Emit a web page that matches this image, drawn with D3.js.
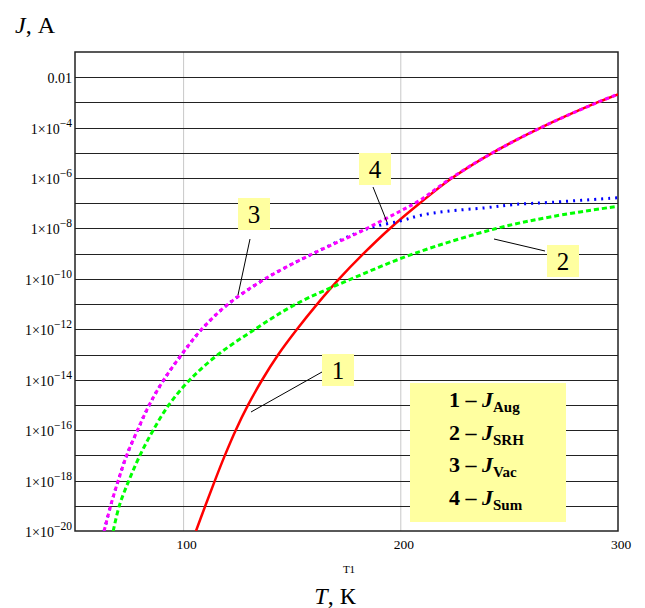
<!DOCTYPE html>
<html>
<head>
<meta charset="utf-8">
<title>J(T)</title>
<style>
  body { margin: 0; background: #fff; }
  svg text { font-family: "Liberation Serif", "Times New Roman", serif; fill: #000; }
</style>
<script src="https://cdnjs.cloudflare.com/ajax/libs/d3/7.8.5/d3.min.js"></script>
</head>
<body>
<svg id="chart" width="645" height="608"></svg>
<script>
// values (T in K, J in A)
var tAug = [105.7, 110, 114.4, 119, 124, 129.7, 136.2, 143.6, 152.2, 161.5, 171.6, 182.8, 195.0, 208.7, 223.6, 242.2, 264.5, 290.5, 300];
var jAug = [1e-20, 1e-19, 1e-18, 1e-17, 1e-16, 1e-15, 1e-14, 1e-13, 1e-12, 1e-11, 1e-10, 1e-9, 1e-8, 1e-7, 1e-6, 1e-5, 1e-4, 1e-3, 2.1e-3];

var tSRH = [67.6, 70.4, 74.8, 79.9, 86, 93.2, 102.9, 115.9, 132.8, 151.7, 177.3, 206, 244, 270, 300];
var jSRH = [1e-20, 1e-19, 1e-18, 1e-17, 1e-16, 1e-15, 1e-14, 1e-13, 1e-12, 1e-11, 1e-10, 1e-9, 1e-8, 3e-8, 7.6e-8];

var tVac = [63.4, 66.4, 69.9, 73.8, 78.8, 84.2, 90.9, 99.1, 108.3, 120.5, 137.5, 159.5, 185, 200, 209, 221, 239, 252, 270, 300];
var jVac = [1e-20, 1e-19, 1e-18, 1e-17, 1e-16, 1e-15, 1e-14, 1e-13, 1e-12, 1e-11, 1e-10, 1e-9, 1e-8, 2.0e-8, 3.3e-8, 4.8e-8, 6.6e-8, 8.9e-8, 1.1e-7, 1.66e-7];

var tSum = [63.4, 66.4, 69.9, 73.8, 78.8, 84.2, 90.9, 99.1, 108.3, 120.5, 137.5, 159.5, 180, 190, 200, 208.7, 223.6, 242.2, 264.5, 290.5, 300];
var jSum = [1e-20, 1e-19, 1e-18, 1e-17, 1e-16, 1e-15, 1e-14, 1e-13, 1e-12, 1e-11, 1e-10, 1e-9, 6.5e-9, 1.8e-8, 5e-8, 1.3e-7, 1.05e-6, 1e-5, 1e-4, 1e-3, 2.1e-3];

var xTicks = [100, 200, 300];
var yLabelExps = [-2, -4, -6, -8, -10, -12, -14, -16, -18, -20];
var legendNames = ["Aug", "SRH", "Vac", "Sum"];

var svg = d3.select("#chart");
var pL = 75, pR = 618, pT = 52, pB = 531;

var x = d3.scaleLinear().domain([50, 300]).range([pL, pR]);
var y = d3.scaleLog().domain([1e-20, 0.1]).range([pB, pT]);

// vertical grid
svg.append("g").selectAll("line").data(xTicks.filter(function(d) { return d < 300; }))
  .enter().append("line")
  .attr("x1", function(d) { return x(d); }).attr("x2", function(d) { return x(d); })
  .attr("y1", pT).attr("y2", pB)
  .attr("stroke", "#c8c8c8").attr("stroke-width", 1);

// horizontal grid, every decade
var decades = d3.range(-19, -1).map(function(e) { return Math.pow(10, e); });
svg.append("g").selectAll("line").data(decades)
  .enter().append("line")
  .attr("x1", pL).attr("x2", pR)
  .attr("y1", function(d) { return Math.round(y(d)) + 0.5; })
  .attr("y2", function(d) { return Math.round(y(d)) + 0.5; })
  .attr("stroke", "#222").attr("stroke-width", 1);

// frame
svg.append("rect").attr("x", pL).attr("y", pT)
  .attr("width", pR - pL).attr("height", pB - pT)
  .attr("fill", "none").attr("stroke", "#222").attr("stroke-width", 1.5);

// y labels
var yl = svg.append("g").selectAll("text").data(yLabelExps).enter().append("text")
  .attr("x", 72).attr("y", function(d) { return y(Math.pow(10, d)) + 6; })
  .attr("text-anchor", "end").style("font-size", "14px");
yl.each(function(d) {
  var t = d3.select(this);
  if (d === -2) { t.text("0.01"); return; }
  t.append("tspan").text("1\u00d710");
  t.append("tspan").attr("dy", -7).style("font-size", "11.5px").text("\u2212" + (-d));
});

// x labels
svg.append("g").selectAll("text").data(xTicks).enter().append("text")
  .attr("x", function(d) { return x(d) + 3; }).attr("y", 549)
  .attr("text-anchor", "middle").style("font-size", "13.5px")
  .text(function(d) { return d; });

svg.append("text").attr("x", 349).attr("y", 573).attr("text-anchor", "middle")
  .style("font-size", "11px").text("T1");

var xt = svg.append("text").attr("x", 335).attr("y", 604).attr("text-anchor", "middle").style("font-size", "24px");
xt.append("tspan").style("font-style", "italic").text("T");
xt.append("tspan").text(", К");

var yt = svg.append("text").attr("x", 15).attr("y", 33).style("font-size", "24px");
yt.append("tspan").style("font-style", "italic").text("J");
yt.append("tspan").text(", А");

// curves
svg.append("clipPath").attr("id", "plot").append("rect")
  .attr("x", pL).attr("y", pT).attr("width", pR - pL).attr("height", pB - pT);

function pts(ts, js) { return ts.map(function(t, i) { return [t, js[i]]; }); }
var line = d3.line().x(function(d) { return x(d[0]); }).y(function(d) { return y(d[1]); })
  .curve(d3.curveCatmullRom.alpha(0.5));

var g = svg.append("g").attr("clip-path", "url(#plot)");
g.append("path").attr("d", line(pts(tAug, jAug)))
  .attr("fill", "none").attr("stroke", "#ff0000").attr("stroke-width", 2.5);
g.append("path").attr("d", line(pts(tSRH, jSRH)))
  .attr("fill", "none").attr("stroke", "#00ff00").attr("stroke-width", 3)
  .attr("stroke-dasharray", "5,3");
g.append("path").attr("d", line(pts(tVac, jVac)))
  .attr("fill", "none").attr("stroke", "#0000ff").attr("stroke-width", 3)
  .attr("stroke-dasharray", "2,5");
g.append("path").attr("d", line(pts(tSum, jSum)))
  .attr("fill", "none").attr("stroke", "#ff00ff").attr("stroke-width", 3)
  .attr("stroke-dasharray", "4,3");

// callouts
var callouts = [
  { n: "1", bx: 322, by: 354, lx1: 322, ly1: 372, lx2: 251, ly2: 412 },
  { n: "2", bx: 547, by: 245, lx1: 545, ly1: 251, lx2: 494, ly2: 239 },
  { n: "3", bx: 238, by: 198, lx1: 250, ly1: 239, lx2: 238, ly2: 295 },
  { n: "4", bx: 359, by: 153, lx1: 373, ly1: 187, lx2: 387, ly2: 222 }
];
var co = svg.append("g").selectAll("g").data(callouts).enter().append("g");
co.append("line")
  .attr("x1", function(d) { return d.lx1; }).attr("y1", function(d) { return d.ly1; })
  .attr("x2", function(d) { return d.lx2; }).attr("y2", function(d) { return d.ly2; })
  .attr("stroke", "#000").attr("stroke-width", 1);
co.append("rect")
  .attr("x", function(d) { return d.bx; }).attr("y", function(d) { return d.by; })
  .attr("width", 32).attr("height", 32).attr("fill", "#ffffa0");
co.append("text")
  .attr("x", function(d) { return d.bx + 16; }).attr("y", function(d) { return d.by + 25; })
  .attr("text-anchor", "middle").style("font-size", "25px")
  .text(function(d) { return d.n; });

// legend
svg.append("rect").attr("x", 410).attr("y", 383).attr("width", 156).attr("height", 139)
  .attr("fill", "#ffffa0");
var lg = svg.append("g").selectAll("text").data(legendNames).enter().append("text")
  .attr("x", 449).attr("y", function(d, i) { return 407 + i * 32.7; })
  .style("font-size", "22px").style("font-weight", "bold");
lg.each(function(d, i) {
  var t = d3.select(this);
  t.append("tspan").text((i + 1) + " \u2013 ");
  t.append("tspan").style("font-style", "italic").text("J");
  t.append("tspan").attr("dy", 5).style("font-size", "15px").text(d);
});
</script>
</body>
</html>
